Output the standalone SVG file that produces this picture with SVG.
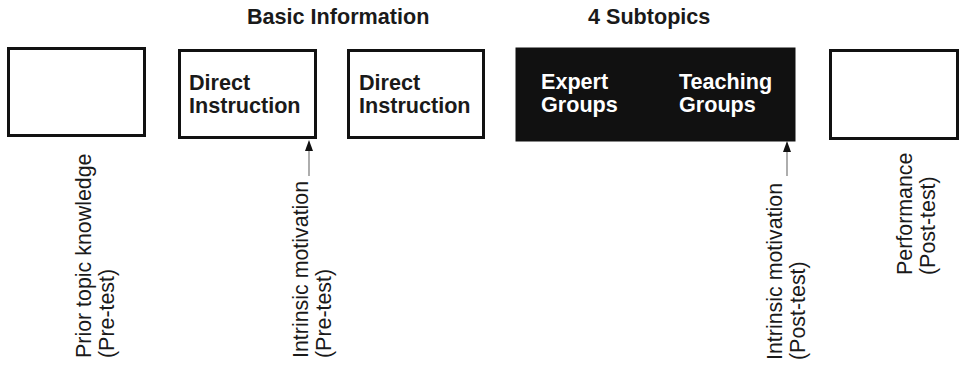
<svg xmlns="http://www.w3.org/2000/svg" width="964" height="365" viewBox="0 0 964 365">
<style>
.box{fill:#fff;stroke:#111;stroke-width:3}
.dark{fill:#111;stroke:#111;stroke-width:1}
.b{font-family:"Liberation Sans",Arial,sans-serif;font-weight:bold;font-size:21.6px;fill:#1a1a1a}
.w{fill:#fff}
.r{font-family:"Liberation Sans",Arial,sans-serif;font-size:21.4px;fill:#1a1a1a}
.stem{stroke:#777;stroke-width:1.2;fill:none}
.head{fill:#111}
</style>
<text class="b" x="247" y="24">Basic Information</text>
<text class="b" x="588" y="24">4 Subtopics</text>
<g id="prior">
<rect class="box" x="8.5" y="48.5" width="136" height="87"/>
<text class="r" transform="translate(91,358) rotate(-90)"><tspan x="0" y="0">Prior topic knowledge</tspan><tspan x="0" dy="23">(Pre-test)</tspan></text>
</g>
<g id="direct1">
<rect class="box" x="179.5" y="50.5" width="136" height="87"/>
<text class="b" x="189" y="90">Direct</text>
<text class="b" x="189" y="113">Instruction</text>
</g>
<g id="direct2">
<rect class="box" x="348.5" y="50.5" width="135" height="87"/>
<text class="b" x="359" y="90">Direct</text>
<text class="b" x="359" y="113">Instruction</text>
</g>
<g id="subtopics">
<rect class="dark" x="516" y="48" width="279" height="93"/>
<text class="b w" x="541" y="89">Expert</text>
<text class="b w" x="541" y="112">Groups</text>
<text class="b w" x="679" y="89">Teaching</text>
<text class="b w" x="679" y="112">Groups</text>
</g>
<g id="performance">
<rect class="box" x="830.5" y="50.5" width="127" height="88"/>
<text class="r" transform="translate(912,275) rotate(-90)"><tspan x="0" y="0">Performance</tspan><tspan x="0" dy="23">(Post-test)</tspan></text>
</g>
<g id="motivation-pre">
<text class="r" transform="translate(308,358) rotate(-90)"><tspan x="0" y="0">Intrinsic motivation</tspan><tspan x="0" dy="23">(Pre-test)</tspan></text>
</g>
<g id="motivation-post">
<text class="r" transform="translate(782,360) rotate(-90)"><tspan x="0" y="0">Intrinsic motivation</tspan><tspan x="0" dy="23">(Post-test)</tspan></text>
</g>
<g id="connectors">
<line class="stem" x1="309" y1="176" x2="309" y2="150"/>
<polygon class="head" points="309,140 305,151 313,151"/>
<line class="stem" x1="787" y1="176" x2="787" y2="151"/>
<polygon class="head" points="787,141 783,152 791,152"/>
</g>
</svg>
